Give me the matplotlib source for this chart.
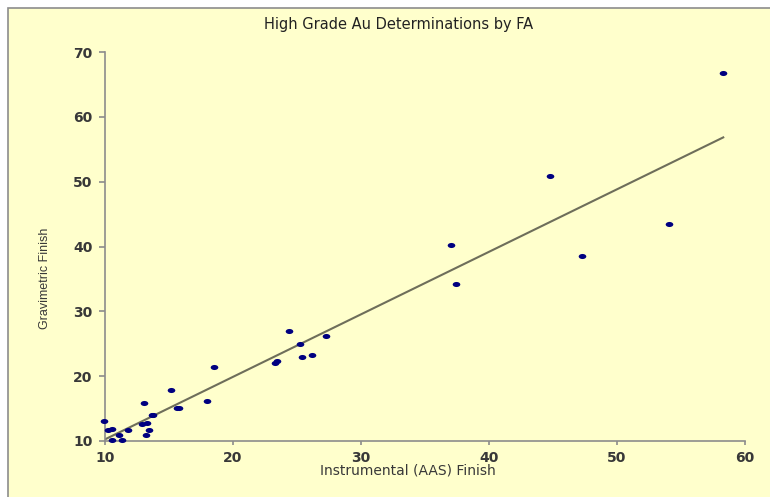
import numpy as np
import matplotlib
matplotlib.use("Agg")
import matplotlib.pyplot as plt
from matplotlib.patches import Rectangle
from matplotlib.path import Path
from matplotlib.transforms import Affine2D

# Instrumental (AAS) finish vs gravimetric finish, Au (g/t)
aas = [9.95, 10.26, 10.57, 10.52, 11.1, 11.3, 11.8, 13.05, 12.87, 13.26, 13.4,
       13.2, 13.65, 13.73, 15.13, 15.65, 15.76, 17.95, 18.5, 23.3, 23.4, 24.4,
       25.2, 25.4, 26.2, 27.3, 37.0, 37.4, 44.8, 47.3, 54.1, 58.3]
grav = [13.1, 11.7, 11.8, 10.15, 11.0, 10.15, 11.7, 15.9, 12.6, 12.8, 11.7,
        11.0, 14.0, 14.0, 17.9, 15.05, 15.15, 16.2, 21.4, 22.0, 22.4, 27.0,
        25.0, 22.9, 23.3, 26.2, 40.2, 34.2, 50.85, 38.6, 43.4, 66.7]
x_ticks = [10, 20, 30, 40, 50, 60]
y_ticks = [10, 20, 30, 40, 50, 60, 70]

bg = "#FFFFCC"
txt = "#383838"
fam = ["DejaVu Sans"]

fig = plt.figure(figsize=(7.7, 4.97), dpi=100)
fig.patch.set_facecolor("white")
# chart area with gray border
fig.patches.append(Rectangle((8 / 770, -0.05), 1.0, 1.05 - 8 / 497, transform=fig.transFigure,
                             facecolor=bg, edgecolor="#8C8C8C", linewidth=1.2, zorder=-5))

ax = fig.add_axes([105 / 770, 1 - 441 / 497, 640 / 770, 389 / 497])
ax.set_facecolor(bg)

# linear trendline
slope, icpt = np.polyfit(aas, grav, 1)
xs = np.array([min(aas), max(aas)])
ax.plot(xs, slope * xs + icpt, color="#6E6E5A", linewidth=1.5, zorder=2)

# slightly flattened dots like the original
ell = Path.unit_circle().transformed(Affine2D().scale(1.5, 1.0))
ax.scatter(aas, grav, s=30, color="#000080", marker=ell, linewidths=0,
           zorder=3, clip_on=False)

ax.set_xlim(10, 60)
ax.set_ylim(10, 70)
ax.set_xticks(x_ticks)
ax.set_yticks(y_ticks)
for s in ["top", "right"]:
    ax.spines[s].set_visible(False)
for s in ["left", "bottom"]:
    ax.spines[s].set_color("#8C8C8C")
    ax.spines[s].set_linewidth(1.2)
ax.tick_params(axis="both", colors="#8C8C8C", labelcolor=txt, width=1.2)
ax.tick_params(axis="y", length=4, pad=5)
ax.tick_params(axis="x", length=3, pad=4)
for lbl in ax.get_xticklabels() + ax.get_yticklabels():
    lbl.set_family(fam)
    lbl.set_fontsize(10)
    lbl.set_fontweight("bold")

fig.text(408 / 770, 1 - 471 / 497, "Instrumental (AAS) Finish", ha="center",
         va="center", fontsize=10, color=txt, family=fam)
fig.text(45 / 770, 1 - 278 / 497, "Gravimetric Finish", rotation=90, ha="center",
         va="center", fontsize=9, color=txt,
         family=["Liberation Sans Narrow", "Liberation Sans", "DejaVu Sans"])
fig.text(399 / 770, 1 - 24 / 497, "High Grade Au Determinations by FA", ha="center",
         va="center", fontsize=10.5, color="#222222", family=fam)

plt.savefig("out.png", dpi=100, facecolor=fig.get_facecolor())
